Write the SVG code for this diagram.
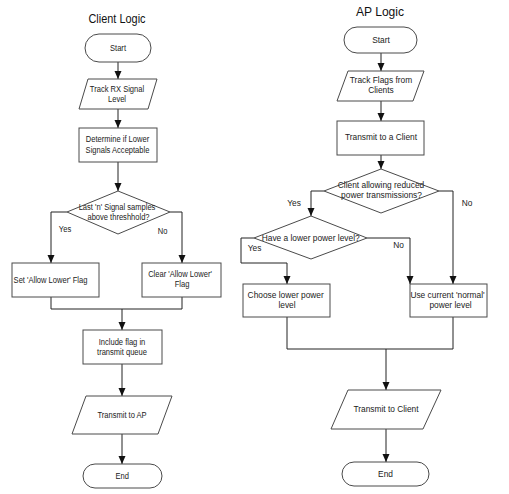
<svg xmlns="http://www.w3.org/2000/svg" width="509" height="494" viewBox="0 0 509 494">
<style>
.s{fill:#fff;stroke:#4a4a4a;stroke-width:1}
.t{font-family:"Liberation Sans",Arial,sans-serif;font-size:8.8px;fill:#222;text-anchor:middle}
.h{font-family:"Liberation Sans",Arial,sans-serif;font-size:13px;fill:#111;text-anchor:middle}
.l{fill:none;stroke:#222;stroke-width:1}
</style>
<defs>
<marker id="a" markerUnits="userSpaceOnUse" markerWidth="8" markerHeight="8" refX="8" refY="3.5" orient="auto">
<path d="M0,0 L8,3.5 L0,7 z" fill="#111"/>
</marker>
</defs>
<rect width="509" height="494" fill="#fff"/>
<text class="h" transform="translate(117,23) scale(0.84,1)">Client Logic</text>
<text class="h" transform="translate(380,15.5) scale(0.93,1)">AP Logic</text>
<g id="connectors">
<path class="l" d="M118,62 V79" marker-end="url(#a)"/>
<path class="l" d="M118,109 V128" marker-end="url(#a)"/>
<path class="l" d="M118,162 V191" marker-end="url(#a)"/>
<path class="l" d="M67,212 H51 V263" marker-end="url(#a)"/>
<path class="l" d="M170,212 H182 V263" marker-end="url(#a)"/>
<path class="l" d="M51,297 V309 H182 V297"/>
<path class="l" d="M122,309 V330" marker-end="url(#a)"/>
<path class="l" d="M122,364 V396" marker-end="url(#a)"/>
<path class="l" d="M122,434 V464" marker-end="url(#a)"/>
<path class="l" d="M381,53 V71" marker-end="url(#a)"/>
<path class="l" d="M381,101 V121" marker-end="url(#a)"/>
<path class="l" d="M381,155 V169" marker-end="url(#a)"/>
<path class="l" d="M324,191 H311 V216" marker-end="url(#a)"/>
<path class="l" d="M439,191 H453 V284" marker-end="url(#a)"/>
<path class="l" d="M254,238 H241 V263 H287 V284" marker-end="url(#a)"/>
<path class="l" d="M367,238 H410 V284" marker-end="url(#a)"/>
<path class="l" d="M287,317 V349 H453 V317"/>
<path class="l" d="M386,349 V390" marker-end="url(#a)"/>
<path class="l" d="M386,429 V462" marker-end="url(#a)"/>
</g>
<g id="c-start"><rect class="s" x="85" y="34" width="66" height="28" rx="14"/><text class="t" transform="translate(118,51) scale(0.86,1)">Start</text></g>
<g id="c-track"><polygon class="s" points="88,79 157,79 148,109 79,109"/><text class="t" transform="translate(117,92) scale(0.86,1)">Track RX Signal</text><text class="t" transform="translate(117,102) scale(0.86,1)">Level</text></g>
<g id="c-determine"><rect class="s" x="79" y="128" width="78" height="34"/><text class="t" transform="translate(117.5,142.4) scale(0.86,1)">Determine if Lower</text><text class="t" transform="translate(117.5,152.6) scale(0.86,1)">Signals Acceptable</text></g>
<g id="c-decision"><polygon class="s" points="118,191 170,212 118,234 67,212"/><text class="t" transform="translate(117,209.5) scale(0.86,1)">Last 'n' Signal samples</text><text class="t" transform="translate(118.5,219.5) scale(0.86,1)">above threshhold?</text></g>
<text class="t" transform="translate(65,232.3) scale(0.86,1)">Yes</text>
<text class="t" transform="translate(162.5,234) scale(0.86,1)">No</text>
<g id="c-set"><rect class="s" x="12" y="263" width="87" height="34"/><text class="t" transform="translate(50.5,282.7) scale(0.86,1)">Set 'Allow Lower' Flag</text></g>
<g id="c-clear"><rect class="s" x="142" y="263" width="79" height="34"/><text class="t" transform="translate(180,277) scale(0.86,1)">Clear 'Allow Lower'</text><text class="t" transform="translate(182,287.3) scale(0.86,1)">Flag</text></g>
<g id="c-include"><rect class="s" x="83" y="330" width="79" height="34"/><text class="t" transform="translate(122,344.8) scale(0.86,1)">Include flag in</text><text class="t" transform="translate(122,354.8) scale(0.86,1)">transmit queue</text></g>
<g id="c-transmit"><polygon class="s" points="86,396 172,396 158,434 72,434"/><text class="t" transform="translate(122,417.5) scale(0.86,1)">Transmit to AP</text></g>
<g id="c-end"><rect class="s" x="83" y="464" width="79" height="24" rx="12"/><text class="t" transform="translate(122.3,478.5) scale(0.86,1)">End</text></g>
<g id="a-start"><rect class="s" x="344" y="27" width="73" height="26" rx="13"/><text class="t" transform="translate(381,43) scale(0.95,1)">Start</text></g>
<g id="a-track"><polygon class="s" points="348,71 424,71 413,101 337,101"/><text class="t" transform="translate(381,83) scale(0.95,1)">Track Flags from</text><text class="t" transform="translate(381,93) scale(0.95,1)">Clients</text></g>
<g id="a-transmit-client"><rect class="s" x="337" y="121" width="87" height="34"/><text class="t" transform="translate(381,140) scale(0.95,1)">Transmit to a Client</text></g>
<g id="a-decision1"><polygon class="s" points="381,169 439,191 381,213 324,191"/><text class="t" transform="translate(381,187.8) scale(0.95,1)">Client allowing reduced</text><text class="t" transform="translate(381.5,198) scale(0.95,1)">power transmissions?</text></g>
<text class="t" transform="translate(294,206) scale(0.95,1)">Yes</text>
<text class="t" transform="translate(467,206) scale(0.95,1)">No</text>
<g id="a-decision2"><polygon class="s" points="311,216 367,238 311,259 254,238"/><text class="t" transform="translate(310.7,240.5) scale(0.95,1)">Have a lower power level?</text></g>
<text class="t" transform="translate(254.5,251) scale(0.95,1)">Yes</text>
<text class="t" transform="translate(398.5,248) scale(0.95,1)">No</text>
<g id="a-choose"><rect class="s" x="243" y="284" width="87" height="33"/><text class="t" transform="translate(285.7,298) scale(0.95,1)">Choose lower power</text><text class="t" transform="translate(287,308) scale(0.95,1)">level</text></g>
<g id="a-use"><rect class="s" x="410" y="284" width="77" height="33"/><text class="t" transform="translate(447.5,298) scale(0.95,1)">Use current 'normal'</text><text class="t" transform="translate(450.5,308) scale(0.95,1)">power level</text></g>
<g id="a-transmit"><polygon class="s" points="348,390 441,390 423,429 331,429"/><text class="t" transform="translate(386,412.3) scale(0.95,1)">Transmit to Client</text></g>
<g id="a-end"><rect class="s" x="342" y="462" width="87" height="24" rx="12"/><text class="t" transform="translate(385.5,477) scale(0.95,1)">End</text></g>
</svg>
